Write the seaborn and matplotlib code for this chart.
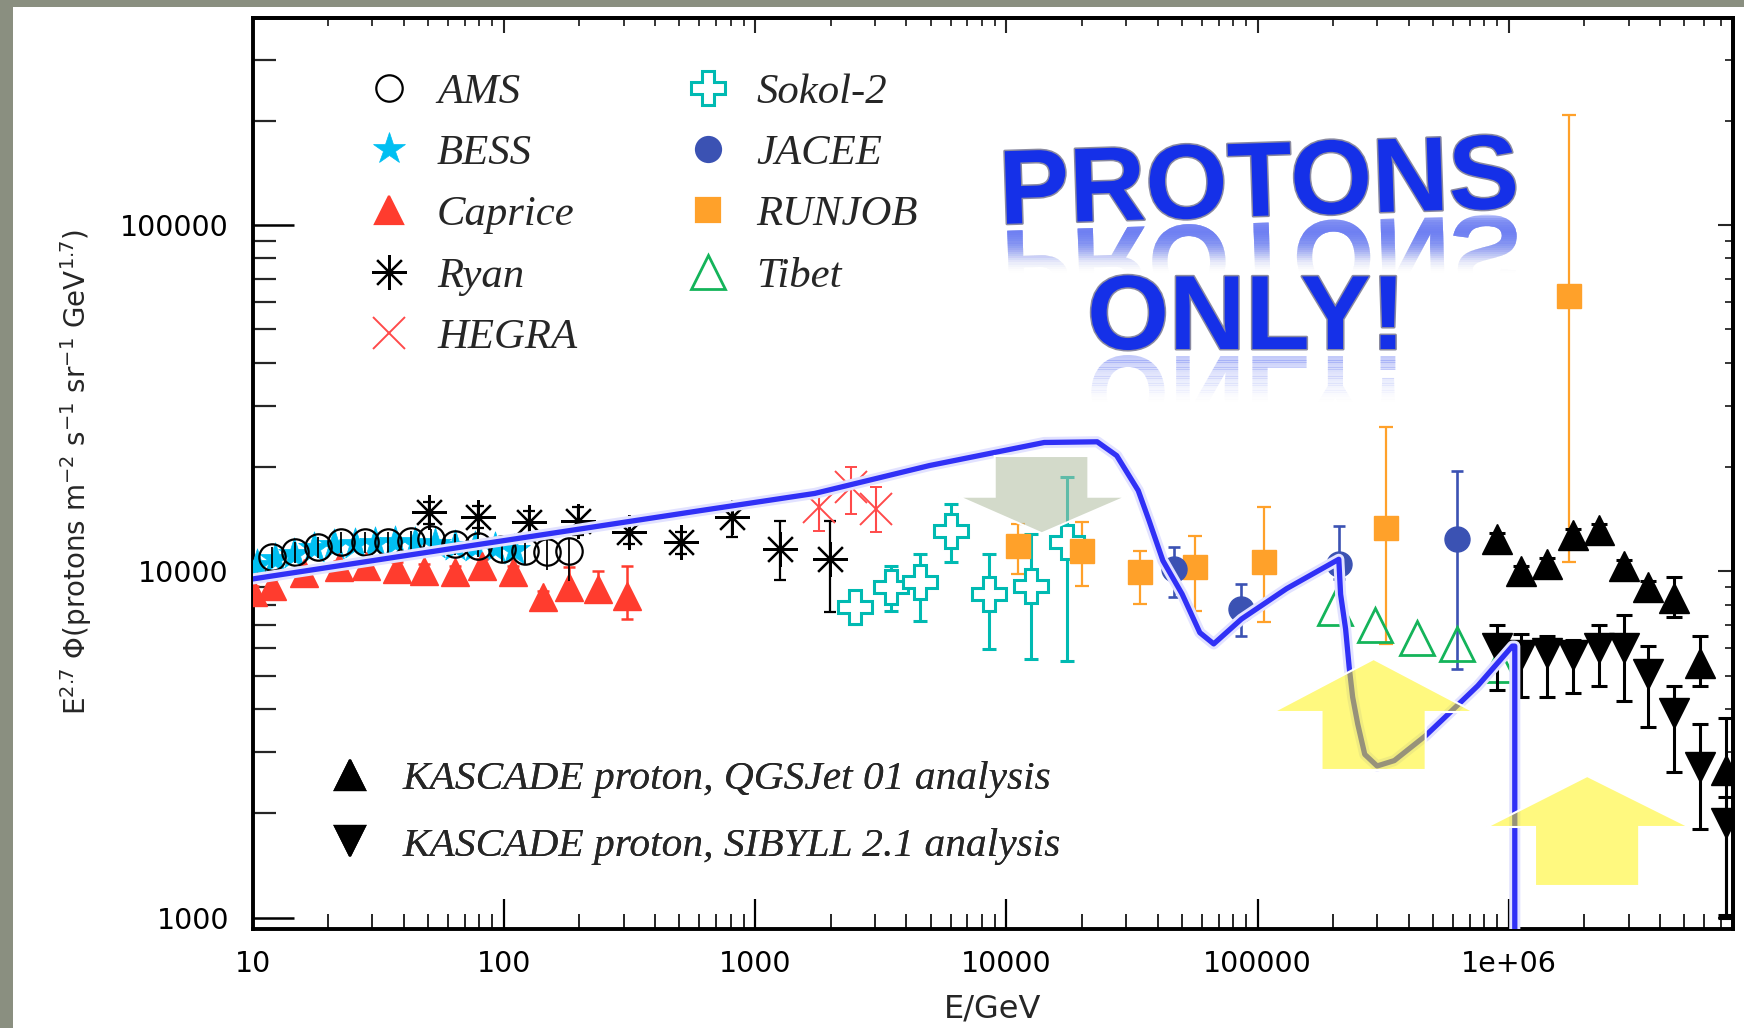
import numpy as np
import pandas as pd
import matplotlib
matplotlib.use("Agg")
import matplotlib.pyplot as plt
import matplotlib.patheffects as pe
from matplotlib.patches import Polygon, Rectangle, PathPatch
from matplotlib.lines import Line2D
from matplotlib.textpath import TextPath
from matplotlib.font_manager import FontProperties
from matplotlib.transforms import Affine2D
from matplotlib.ticker import NullFormatter, LogLocator
import seaborn as sns

# ---------------- data (E in GeV, flux E^2.7 * Phi) ----------------
ams_e = [12.0, 14.7, 18.2, 22.6, 28.1, 34.7, 42.6, 51.3, 64.2, 78.7, 98.6, 121, 149, 182]
ams_f = [10960, 11340, 11730, 12120, 12120, 12120, 12250, 12400, 11990, 11860, 11600, 11470, 11340, 11470]
ams_lo = [10200, 10550, 10900, 11270, 11270, 11270, 11400, 11530, 11150, 11000, 10600, 10400, 10100, 9400]
ams_hi = [11720, 12130, 12560, 12970, 12970, 12970, 13100, 13270, 12830, 12700, 12500, 12500, 12600, 12500]

bess_e = [10.4, 12.3, 14.6, 17.6, 21.2, 25.5, 30.6, 36.8, 44.2, 53.1, 63.8, 76.6, 92.0, 110]
bess_f = [10450, 10850, 11250, 11650, 11900, 12000, 12100, 12150, 12100, 11950, 11850, 11750, 11650, 11550]

caprice_e = [10.0, 12.0, 16.0, 22.1, 28.3, 37.7, 48.2, 64.2, 82.0, 109, 143, 182, 238, 310]
caprice_f = [8690, 9080, 9860, 10260, 10380, 10150, 10040, 9930, 10380, 9930, 8410, 8990, 8890, 8510]
caprice_lo = [8300, 8680, 9420, 9800, 9920, 9700, 9590, 9490, 9920, 9490, 8030, 8410, 8130, 7290]
caprice_hi = [9080, 9480, 10300, 10720, 10840, 10600, 10490, 10370, 10840, 10370, 8790, 10260, 10040, 10380]

ryan_e = [50.2, 78.7, 126, 198, 316, 506, 813, 1262, 1987]
ryan_f = [14790, 14310, 13840, 13990, 12950, 12120, 14310, 11600, 10840]
ryan_lo = [13700, 13300, 12800, 12700, 12000, 11200, 12530, 9410, 7610]
ryan_hi = [15900, 15400, 14900, 15300, 13900, 13000, 15480, 14010, 14010]

hegra_e = [1791, 2412, 3027]
hegra_f = [15310, 17470, 15140]
hegra_lo = [13100, 14620, 12950]
hegra_hi = [17100, 19950, 17470]

sokol_e = [2495, 3484, 4530, 6000, 8510, 12530, 17500]
sokol_f = [7870, 8990, 9290, 13100, 8590, 9080, 12120]
sokol_lo = [7050, 7690, 7200, 10610, 5970, 5580, 5520]
sokol_hi = [8790, 10380, 11210, 15640, 11210, 12810, 18660]

jacee_e = [46700, 86100, 210000, 621000]
jacee_f = [10150, 7780, 10500, 12390]
jacee_lo = [8410, 6520, 9490, 5220]
jacee_hi = [11730, 9190, 13540, 19540]

runjob_e = [11100, 20100, 34100, 56600, 106000, 324000, 1.74e6]
runjob_f = [11850, 11470, 9930, 10260, 10620, 13360, 62500]
runjob_lo = [9820, 9080, 8050, 7690, 7150, 6170, 10600]
runjob_hi = [13700, 13840, 11470, 12670, 15330, 26180, 207000]

tibet_e = [204000, 294000, 430000, 621000, 910000]
tibet_f = [7850, 7000, 6410, 6170, 5360]

kascade_e = [8.95e5, 1.12e6, 1.42e6, 1.80e6, 2.29e6, 2.86e6, 3.57e6, 4.54e6, 5.75e6, 7.31e6]
qgs_f = [12390, 9990, 10500, 12700, 13190, 10370, 9020, 8360, 5430, 2670]
qgs_lo = [11900, 9590, 10080, 12190, 12660, 9960, 8660, 7360, 4670, 1020]
qgs_hi = [12890, 10390, 10920, 13210, 13720, 10780, 9380, 9610, 6490, 3760]
sib_f = [6000, 5720, 5790, 5720, 6000, 6000, 5040, 3910, 2730, 1870]
sib_lo = [4550, 4330, 4330, 4440, 4670, 4220, 3560, 2640, 1800, 1000]
sib_hi = [7000, 6580, 6490, 6330, 7000, 7460, 6090, 4670, 3620, 2230]

model_e = [10, 604, 1730, 4940, 14150, 23000, 27500, 33500, 37000, 42000, 50100,
           58900, 66900, 86300, 130500, 210500, 214000, 224000, 231500, 239000,
           250400, 267000, 299000, 350000, 466000, 583000, 752000, 1.033e6,
           1.056e6, 1.056e6]
model_f = [9500, 14960, 16780, 20190, 23540, 23650, 21570, 17100, 14000, 10730, 8590,
           6650, 6170, 7280, 8910, 10830, 8580, 6820, 5290, 4330,
           3620, 2960, 2740, 2840, 3350, 3910, 4670, 6080,
           6080, 300]

x_ticks = [10, 100, 1000, 10000, 100000, 1e6]
x_ticklabels = ["10", "100", "1000", "10000", "100000", "1e+06"]
y_ticks = [1000, 10000, 100000]
y_ticklabels = ["1000", "10000", "100000"]

top_labels = ["AMS", "BESS", "Caprice", "Ryan", "HEGRA", "Sokol-2", "JACEE", "RUNJOB", "Tibet"]
kascade_labels = ["KASCADE proton, QGSJet 01 analysis", "KASCADE proton, SIBYLL 2.1 analysis"]

# ---------------- style ----------------
sns.set_theme(style="ticks")
plt.rcParams["font.family"] = ["DejaVu Sans"]
plt.rcParams["mathtext.fontset"] = "dejavusans"

W, H = 1744, 1028
fig = plt.figure(figsize=(W / 100, H / 100), dpi=100)
fig.patch.set_facecolor("#8a8f80")
fig.add_artist(Rectangle((12.5 / W, 0), 1.0, 1 - 6.5 / H, transform=fig.transFigure,
                         facecolor="white", edgecolor="none", zorder=-10))

ax_l, ax_r, ax_t, ax_b = 252.5, 1733.0, 18.3, 929.0
ax = fig.add_axes([ax_l / W, (H - ax_b) / H, (ax_r - ax_l) / W, (ax_b - ax_t) / H])
ax.set_facecolor("white")
ax.set_xscale("log")
ax.set_yscale("log")
ax.set_xlim(10, 7.8e6)
ax.set_ylim(927, 3.95e5)


def with_err(e, f, lo, hi, **kw):
    f = np.asarray(f, float)
    yerr = [f - np.asarray(lo, float), np.asarray(hi, float) - f]
    ax.errorbar(e, f, yerr=yerr, linestyle="none", **kw)


teal = "#00bab2"
orange = "#ffa12a"
jblue = "#3b52b3"
red = "#ff3c2e"
hred = "#ff4a4a"
green = "#14b45a"
cyan = "#00bff2"

# data series
sns.scatterplot(x=bess_e, y=bess_f, marker="*", s=24 ** 2, color=cyan, edgecolor=cyan,
                linewidth=0.5, ax=ax, zorder=3)
with_err(ams_e, ams_f, ams_lo, ams_hi, fmt="o", ms=19, mfc="none", mec="black", mew=1.6,
         ecolor="black", elinewidth=1.3, capsize=0, zorder=3.2)
with_err(caprice_e, caprice_f, caprice_lo, caprice_hi, fmt="^", ms=20, mfc=red, mec=red,
         ecolor=red, elinewidth=1.8, capsize=4.5, capthick=1.8, zorder=3)
with_err(ryan_e, ryan_f, ryan_lo, ryan_hi, fmt="none", ecolor="black", elinewidth=1.6,
         capsize=4.5, capthick=1.6, zorder=3)
ax.plot(ryan_e, ryan_f, ls="none", marker=(8, 2, 0), ms=25, mec="black", mew=1.6, zorder=3)
with_err(hegra_e, hegra_f, hegra_lo, hegra_hi, fmt="x", ms=23, mec=hred, mew=1.4,
         ecolor=hred, elinewidth=1.5, capsize=4.5, capthick=1.5, zorder=3)
with_err(sokol_e, sokol_f, sokol_lo, sokol_hi, fmt="P", ms=25, mfc="white", mec=teal, mew=2.2,
         ecolor=teal, elinewidth=2.2, capsize=4.8, capthick=2.2, zorder=3)
with_err(runjob_e, runjob_f, runjob_lo, runjob_hi, fmt="s", ms=17, mfc=orange, mec=orange,
         ecolor=orange, elinewidth=1.6, capsize=4.8, capthick=1.6, zorder=3)
with_err(jacee_e, jacee_f, jacee_lo, jacee_hi, fmt="o", ms=18, mfc=jblue, mec=jblue,
         ecolor=jblue, elinewidth=1.9, capsize=4.3, capthick=1.9, zorder=3)
ax.plot(tibet_e, tibet_f, ls="none", marker="^", ms=24, mfc="none", mec=green, mew=2.0, zorder=3)
with_err(kascade_e, qgs_f, qgs_lo, qgs_hi, fmt="^", ms=22, mfc="black", mec="black",
         ecolor="black", elinewidth=2.2, capsize=5.6, capthick=2.2, zorder=3)
with_err(kascade_e, sib_f, sib_lo, sib_hi, fmt="v", ms=22, mfc="black", mec="black",
         ecolor="black", elinewidth=2.2, capsize=5.6, capthick=2.2, zorder=3)

# proton model curve
model = pd.DataFrame({"E": model_e, "F": model_f})
sns.lineplot(data=model, x="E", y="F", sort=False, estimator=None, color="#3030f6",
             lw=3.8, ax=ax, zorder=4,
             path_effects=[pe.Stroke(linewidth=8, foreground="#e2e2ff"), pe.Normal()])

# ---------------- axes cosmetics ----------------
for sp in ax.spines.values():
    sp.set_linewidth(2.8)
    sp.set_color("black")

ax.set_xticks(x_ticks)
ax.set_xticklabels(x_ticklabels)
ax.set_yticks(y_ticks)
ax.set_yticklabels(y_ticklabels)
ax.xaxis.set_minor_locator(LogLocator(base=10, subs=np.arange(2, 10), numticks=30))
ax.yaxis.set_minor_locator(LogLocator(base=10, subs=np.arange(2, 10), numticks=30))
ax.xaxis.set_minor_formatter(NullFormatter())
ax.yaxis.set_minor_formatter(NullFormatter())
ax.tick_params(axis="x", which="major", direction="in", length=21.6, width=1.6,
               top=False, bottom=True, labelsize=20.5, pad=15, colors="black")
ax.tick_params(axis="x", which="minor", direction="in", length=10.8, width=1.4,
               top=False, bottom=True)
ax.tick_params(axis="y", which="major", direction="in", length=29.5, width=1.8,
               left=True, right=False, labelsize=20.5, pad=17, colors="black")
ax.tick_params(axis="y", which="minor", direction="in", length=16.5, width=1.6,
               left=True, right=False)

secx = ax.secondary_xaxis("top")
secx.tick_params(which="major", direction="in", length=11, width=1.5, labeltop=False)
secx.tick_params(which="minor", direction="in", length=5.8, width=1.3)
secx.xaxis.set_minor_locator(LogLocator(base=10, subs=np.arange(2, 10), numticks=30))
secx.xaxis.set_major_formatter(NullFormatter())
secx.xaxis.set_minor_formatter(NullFormatter())
secx.spines["top"].set_linewidth(2.8)

secy = ax.secondary_yaxis("right")
secy.tick_params(which="major", direction="in", length=11, width=1.5, labelright=False)
secy.tick_params(which="minor", direction="in", length=5.8, width=1.3)
secy.yaxis.set_minor_locator(LogLocator(base=10, subs=np.arange(2, 10), numticks=30))
secy.yaxis.set_major_formatter(NullFormatter())
secy.yaxis.set_minor_formatter(NullFormatter())
secy.spines["right"].set_linewidth(2.8)

ax.set_xlabel("E/GeV", fontsize=23, labelpad=11)
ax.set_ylabel(r"E$^{2.7}$ Φ(protons m$^{-2}$ s$^{-1}$ sr$^{-1}$ GeV$^{1.7}$)", fontsize=20)
ax.yaxis.set_label_coords(-0.107, 0.502)

# ---------------- legends ----------------
leg_font = FontProperties(family="Liberation Serif", style="italic", size=30.8)
kas_font = FontProperties(family="Liberation Serif", style="italic", size=29.8)


def handle(marker, ms, mfc, mec, mew=1.6):
    return Line2D([], [], ls="none", marker=marker, ms=ms, mfc=mfc, mec=mec, mew=mew)


top_handles = [
    handle("o", 19, "none", "black"),
    handle("*", 24, cyan, cyan, 0.5),
    handle("^", 20, red, red),
    handle((8, 2, 0), 25, "black", "black"),
    handle("x", 23, hred, hred, 1.4),
    handle("P", 25, "white", teal, 2.2),
    handle("o", 18, jblue, jblue),
    handle("s", 17, orange, orange),
    handle("^", 24, "none", green, 2.0),
]
leg1 = ax.legend(top_handles, top_labels, ncol=2, loc="upper left",
                 bbox_to_anchor=(0.0787, 0.9398), bbox_transform=ax.transAxes,
                 frameon=False, prop=leg_font, handlelength=0.94, handletextpad=0.65,
                 columnspacing=2.6, labelspacing=0.52, borderpad=0, borderaxespad=0)
ax.add_artist(leg1)

k_handles = [handle("^", 22, "black", "black"), handle("v", 22, "black", "black")]
leg2 = ax.legend(k_handles, kascade_labels, loc="upper left",
                 bbox_to_anchor=(0.0525, 0.1855), bbox_transform=ax.transAxes,
                 frameon=False, prop=kas_font, handlelength=0.97, handletextpad=0.78,
                 labelspacing=0.70, borderpad=0, borderaxespad=0)
ax.add_artist(leg2)

# ---------------- arrows ----------------
def px_to_axes(pts):
    return [((x - ax_l) / (ax_r - ax_l), (ax_b - y) / (ax_b - ax_t)) for x, y in pts]


def block_arrow(pts, fc, alpha):
    verts = px_to_axes(pts)
    ax.add_patch(Polygon(verts, closed=True, transform=ax.transAxes, facecolor=fc,
                         alpha=alpha, edgecolor="none", zorder=6))
    ax.add_patch(Polygon(verts, closed=True, transform=ax.transAxes, facecolor="none",
                         edgecolor="white", lw=1.5, zorder=6.1))


# pointing down onto the knee of the curve
block_arrow([(994.7, 456), (1088.4, 456), (1088.4, 496.7), (1126.7, 496.7),
             (1041.8, 533.3), (958.3, 496.7), (994.7, 496.7)], "#afbca0", 0.55)
# pointing up at the dip
block_arrow([(1321.5, 770), (1425.7, 770), (1425.7, 712), (1474.3, 712),
             (1373.6, 659), (1272.9, 712), (1321.5, 712)], "#fff500", 0.5)
# pointing up at the high-energy end
block_arrow([(1535, 886), (1639.2, 886), (1639.2, 827), (1689.6, 827),
             (1587.2, 776), (1486.5, 827), (1535, 827)], "#fff500", 0.5)

# ---------------- title words with reflection ----------------
title_color = "#1530e8"
title_pt = 76
title_px = title_pt * 100 / 72
title_fx = [pe.Stroke(linewidth=2.2, foreground="#8a8aa0"), pe.Normal()]


def reflection(word, x0, y0, angle, gap, depth):
    fp = FontProperties(family="Liberation Sans", weight="bold")
    tp = TextPath((0, 0), word, size=title_px, prop=fp)
    local = Affine2D().rotate_deg(angle).translate(x0, y0)
    mirror = Affine2D().scale(1, -1).translate(0, -gap)
    ext = tp.get_extents()
    n = 20
    step = depth / n
    for i in range(n):
        band = Rectangle((ext.x0 - 5, -gap - (i + 1) * step), ext.width + 10, step + 0.6,
                         transform=local)
        patch = PathPatch(tp, transform=mirror + local, facecolor="#6a7cf2",
                          edgecolor="none", alpha=0.40 * (1 - i / n) ** 1.5, zorder=9)
        patch.set_clip_path(band)
        fig.add_artist(patch)


def title_word(word, x_left, baseline, angle, gap, depth):
    y0 = H - baseline
    fig.text(x_left / W, y0 / H, word, ha="left", va="baseline", rotation=angle,
             rotation_mode="anchor", fontsize=title_pt, fontweight="bold",
             family="Liberation Sans", color=title_color, path_effects=title_fx, zorder=10)
    reflection(word, x_left, y0, angle, gap, depth)


title_word("PROTONS", 1000, 224, 1.8, 7, 42)
title_word("ONLY!", 1087, 349, 0.0, 7, 46)

fig.savefig("out.png", dpi=100, facecolor=fig.get_facecolor())
